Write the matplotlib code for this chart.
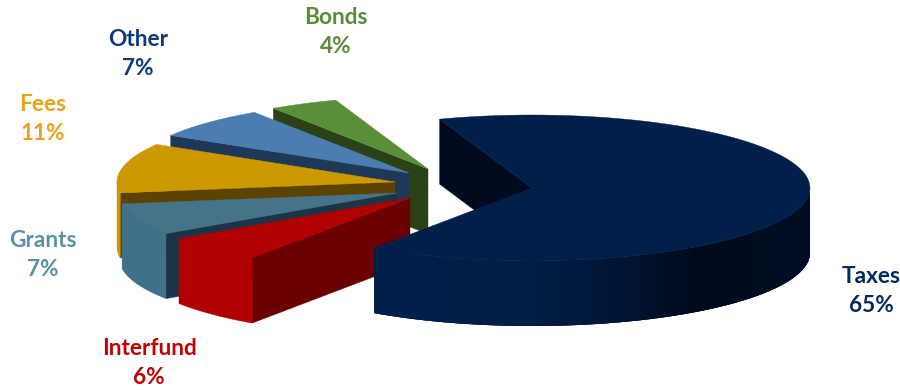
import numpy as np
import matplotlib
matplotlib.use('Agg')
import matplotlib.pyplot as plt
from matplotlib.colors import to_rgb

# revenue sources, clockwise from the top-left cut of the big slice
labels = ['Taxes', 'Interfund', 'Grants', 'Fees', 'Other', 'Bonds']
shares = [65, 6, 7, 11, 7, 4]

top_colors = ['#00204a', '#b00000', '#457389', '#cc9900', '#4a7eb0', '#5a8f3a']
rim_colors = ['#00204a', '#b00000', '#40708a', '#cc9900', '#4a7eb0', '#5a8f3a']
cut_colors = ['#000b20', '#6a0000', '#1b3448', '#5c4400', '#1e3858', '#2a4215']
label_colors = ['#00295c', '#c00000', '#5b90a8', '#e8a317', '#0b3a78', '#5a8a38']

# where each slice's apex sits once pulled apart
apex_x = [532, 410, 397, 395, 409, 428]
apex_y = [188, 198, 193, 182, 173, 169]
label_x = [871, 149, 43, 43, 138, 336]
label_y = [291, 363, 255, 119, 54, 32]

RX, RY, DEPTH = 278, 73, 65
START = 340.6

plt.rcParams['font.family'] = ['Lato', 'DejaVu Sans']
fig = plt.figure(figsize=(9, 3.9), dpi=100)
ax = fig.add_axes([0, 0, 1, 1])
ax.set_xlim(0, 900)
ax.set_ylim(390, 0)
ax.axis('off')


def rim(cx, cy, a0, a1, n=120):
    # points on the ellipse, angle measured clockwise from the top
    a = np.radians(np.linspace(a0, a1, n))
    return cx + RX * np.sin(a), cy - RY * np.cos(a)


def draw_cut(cx, cy, angle, color):
    x, y = rim(cx, cy, angle, angle, 1)
    ax.fill([cx, x[0], x[0], cx], [cy, y[0], y[0] + DEPTH, cy + DEPTH],
            color=color, lw=0.3)


def draw_top(cx, cy, a0, a1, color):
    x, y = rim(cx, cy, a0, a1)
    ax.fill(np.r_[cx, x], np.r_[cy, y], color=color, lw=0.3)


def draw_wall(cx, cy, a0, a1, color):
    # only the part of the rim that faces the viewer
    a0, a1 = max(a0, 90), min(a1, 270)
    if a1 <= a0:
        return
    x, y = rim(cx, cy, a0, a1)
    ax.fill(np.r_[x, x[::-1]], np.r_[y, y[::-1] + DEPTH], color=color, lw=0.3)


def draw_shaded_wall(cx, cy, a0, a1):
    # darkens toward the lower right; strips overlap so no seams show
    stops_x = [370, 530, 620, 700, 810]
    stops_c = np.array([to_rgb(c) for c in ['#00204a', '#001e45', '#001535', '#000a1b', '#000d24']])
    a = np.linspace(a0, a1, 161)
    for i in range(len(a) - 1):
        x, y = rim(cx, cy, a[i], a[min(i + 3, len(a) - 1)], 8)
        col = [np.interp(x[0], stops_x, stops_c[:, k]) for k in range(3)]
        ax.fill(np.r_[x, x[::-1]], np.r_[y, y[::-1] + DEPTH], color=col, lw=0)


edges = START + np.cumsum([0] + shares) * 3.6

# back cut of the big slice goes first, the rest are stacked back to front
draw_cut(apex_x[0], apex_y[0], START, cut_colors[0])
for i in [5, 4, 3, 2, 1]:
    a0, a1 = edges[i] - 360, edges[i + 1] - 360
    draw_cut(apex_x[i], apex_y[i], a0, cut_colors[i])
    draw_wall(apex_x[i], apex_y[i], a0, a1, rim_colors[i])
    draw_top(apex_x[i], apex_y[i], a0, a1, top_colors[i])

draw_shaded_wall(apex_x[0], apex_y[0], 90, edges[1] - 360)
draw_top(apex_x[0], apex_y[0], START, edges[1], top_colors[0])

for name, share, col, x, y in zip(labels, shares, label_colors, label_x, label_y):
    ax.text(x, y, '%s\n%d%%' % (name, share), color=col, fontsize=16.3, fontweight='bold',
            ha='center', va='center', linespacing=1.42)

fig.savefig('out.png', dpi=100)
